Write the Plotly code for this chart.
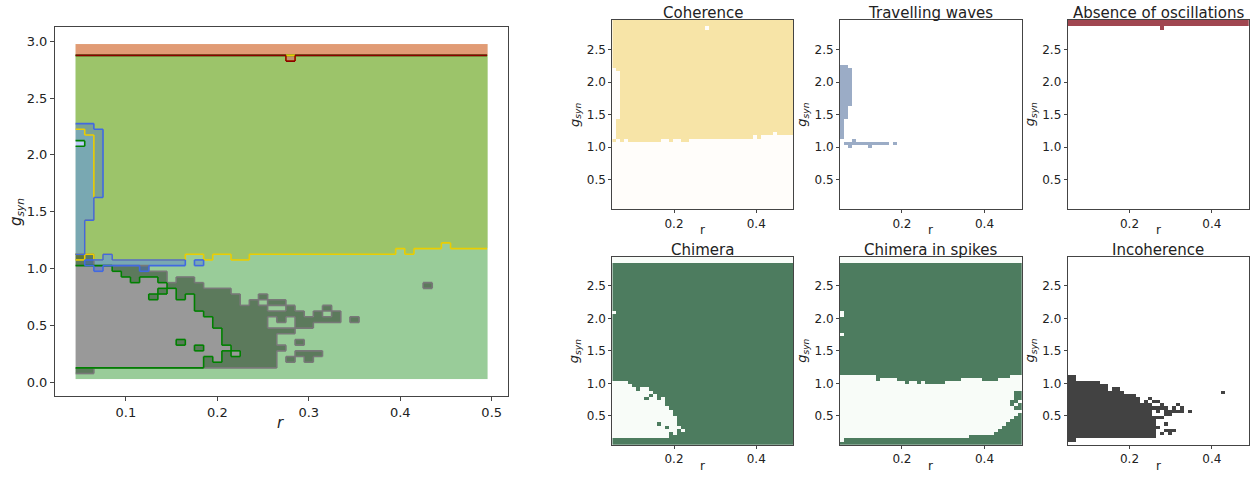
import numpy as np
import plotly.graph_objects as go

# ---------------- data ----------------
R_VALUES = [0.05, 0.06, 0.07, 0.08, 0.09, 0.10, 0.11, 0.12, 0.13, 0.14, 0.15,
            0.16, 0.17, 0.18, 0.19, 0.20, 0.21, 0.22, 0.23, 0.24, 0.25, 0.26,
            0.27, 0.28, 0.29, 0.30, 0.31, 0.32, 0.33, 0.34, 0.35, 0.36, 0.37,
            0.38, 0.39, 0.40, 0.41, 0.42, 0.43, 0.44, 0.45, 0.46, 0.47, 0.48, 0.49]
G_VALUES = [0.05, 0.10, 0.15, 0.20, 0.25, 0.30, 0.35, 0.40, 0.45, 0.50,
            0.55, 0.60, 0.65, 0.70, 0.75, 0.80, 0.85, 0.90, 0.95, 1.00,
            1.05, 1.10, 1.15, 1.20, 1.25, 1.30, 1.35, 1.40, 1.45, 1.50,
            1.55, 1.60, 1.65, 1.70, 1.75, 1.80, 1.85, 1.90, 1.95, 2.00,
            2.05, 2.10, 2.15, 2.20, 2.25, 2.30, 2.35, 2.40, 2.45, 2.50,
            2.55, 2.60, 2.65, 2.70, 2.75, 2.80, 2.85, 2.90, 2.95]

# Coherence: lowest coherent g per r column, plus non-coherent gaps (r, g_lo, g_hi)
COH_MIN_G = [1.10, 1.15, 1.10, 1.15, 1.10, 1.10, 1.10, 1.10, 1.10, 1.10, 1.10,
             1.10, 1.15, 1.15, 1.10, 1.15, 1.15, 1.10, 1.10, 1.15, 1.15, 1.15,
             1.15, 1.15, 1.15, 1.15, 1.15, 1.15, 1.15, 1.15, 1.15, 1.15, 1.15,
             1.15, 1.15, 1.20, 1.15, 1.20, 1.20, 1.20, 1.25, 1.20, 1.20, 1.20, 1.20]
COH_GAPS = [(0.05, 1.15, 2.20), (0.06, 1.45, 2.15), (0.28, 2.85, 2.85)]

# Absence of oscillations: lowest g per r column
ABS_MIN_G = [2.90, 2.90, 2.90, 2.90, 2.90, 2.90, 2.90, 2.90, 2.90, 2.90, 2.90,
             2.90, 2.90, 2.90, 2.90, 2.90, 2.90, 2.90, 2.90, 2.90, 2.90, 2.90,
             2.90, 2.85, 2.90, 2.90, 2.90, 2.90, 2.90, 2.90, 2.90, 2.90, 2.90,
             2.90, 2.90, 2.90, 2.90, 2.90, 2.90, 2.90, 2.90, 2.90, 2.90, 2.90, 2.90]

# Travelling waves: blocks (r_lo, r_hi, g_lo, g_hi)
TW_BLOCKS = [(0.05, 0.05, 1.15, 2.25), (0.06, 0.06, 1.45, 2.25), (0.07, 0.07, 1.65, 2.20),
             (0.06, 0.16, 1.05, 1.05), (0.08, 0.08, 1.10, 1.10), (0.07, 0.07, 1.00, 1.00),
             (0.12, 0.12, 1.00, 1.00), (0.18, 0.18, 1.05, 1.05)]

# Incoherence: (r, g_lo, g_hi)
INCOH_SEGS = [(0.05, 0.10, 1.10), (0.06, 0.10, 1.10),
              (0.07, 0.15, 1.00), (0.08, 0.15, 1.00), (0.09, 0.15, 1.00), (0.10, 0.15, 1.00),
              (0.11, 0.15, 1.00), (0.12, 0.15, 1.00), (0.13, 0.15, 0.95), (0.14, 0.15, 0.95),
              (0.15, 0.15, 0.85), (0.16, 0.15, 0.90), (0.17, 0.15, 0.90), (0.18, 0.15, 0.85),
              (0.19, 0.15, 0.80), (0.20, 0.15, 0.80), (0.21, 0.15, 0.80), (0.22, 0.15, 0.75),
              (0.23, 0.15, 0.65), (0.24, 0.15, 0.70), (0.25, 0.15, 0.65), (0.25, 0.75, 0.75),
              (0.26, 0.15, 0.45), (0.26, 0.60, 0.60), (0.26, 0.70, 0.70),
              (0.27, 0.30, 0.30), (0.27, 0.45, 0.45), (0.27, 0.55, 0.60), (0.27, 0.70, 0.70),
              (0.28, 0.20, 0.20), (0.28, 0.45, 0.45), (0.28, 0.60, 0.65),
              (0.29, 0.25, 0.25), (0.29, 0.35, 0.35), (0.29, 0.50, 0.60),
              (0.30, 0.20, 0.25), (0.30, 0.50, 0.55), (0.31, 0.25, 0.25), (0.31, 0.55, 0.60),
              (0.32, 0.55, 0.55), (0.32, 0.65, 0.65), (0.33, 0.55, 0.60),
              (0.35, 0.55, 0.55), (0.43, 0.85, 0.85)]

# Chimera: present up to CHIM_MAX_G except gaps (r, g_lo, g_hi)
CHIM_MAX_G = 2.85
CHIM_GAPS = [(0.05, 0.15, 1.00), (0.06, 0.15, 1.00), (0.07, 0.15, 1.00), (0.08, 0.15, 1.00),
             (0.09, 0.15, 0.95), (0.10, 0.15, 0.90), (0.11, 0.15, 0.85), (0.12, 0.15, 0.90),
             (0.13, 0.15, 0.70), (0.13, 0.80, 0.90), (0.14, 0.15, 0.75), (0.14, 0.85, 0.85),
             (0.15, 0.15, 0.80), (0.16, 0.15, 0.30), (0.16, 0.40, 0.70), (0.17, 0.15, 0.75),
             (0.18, 0.15, 0.25), (0.18, 0.35, 0.60), (0.19, 0.25, 0.55), (0.20, 0.20, 0.45),
             (0.21, 0.30, 0.30), (0.22, 0.25, 0.25), (0.05, 2.10, 2.10)]

# Chimera in spikes: present up to CIS_MAX_G except gaps (r, g_lo, g_hi)
CIS_MAX_G = 2.85
CIS_GAPS = [(0.05, 0.10, 1.10), (0.05, 1.75, 1.75), (0.05, 2.05, 2.10),
            (0.06, 0.15, 1.10), (0.07, 0.15, 1.10), (0.08, 0.15, 1.10), (0.09, 0.15, 1.10),
            (0.10, 0.15, 1.10), (0.11, 0.15, 1.10), (0.12, 0.15, 1.10), (0.13, 0.15, 1.10),
            (0.14, 0.15, 1.00), (0.15, 0.15, 1.05), (0.16, 0.15, 1.05), (0.17, 0.15, 1.05),
            (0.18, 0.15, 1.05), (0.19, 0.15, 1.00), (0.20, 0.15, 1.00), (0.21, 0.15, 0.95),
            (0.22, 0.15, 1.00), (0.23, 0.15, 1.00), (0.24, 0.15, 0.95), (0.25, 0.15, 1.00),
            (0.26, 0.15, 0.95), (0.27, 0.15, 0.95), (0.28, 0.15, 0.95), (0.29, 0.15, 0.95),
            (0.30, 0.15, 0.95), (0.31, 0.15, 1.00), (0.32, 0.15, 1.00), (0.33, 0.15, 1.00),
            (0.34, 0.15, 1.00), (0.35, 0.15, 1.05), (0.36, 0.15, 1.05), (0.37, 0.20, 1.05),
            (0.38, 0.20, 1.05), (0.39, 0.20, 1.05), (0.40, 0.20, 1.00), (0.41, 0.20, 1.00),
            (0.42, 0.20, 1.00), (0.43, 0.25, 1.00), (0.44, 0.30, 1.05), (0.45, 0.35, 1.05),
            (0.46, 0.40, 1.05), (0.47, 0.45, 0.60), (0.47, 0.75, 1.10),
            (0.48, 0.50, 0.55), (0.48, 0.65, 0.65), (0.48, 0.90, 1.10),
            (0.49, 0.55, 0.55), (0.49, 0.70, 0.70), (0.49, 0.90, 1.10)]

PANEL_TITLES = ["Coherence", "Travelling waves", "Absence of oscillations",
                "Chimera", "Chimera in spikes", "Incoherence"]

# ---------------- build masks ----------------
Ra = np.array(R_VALUES)
Ga = np.array(G_VALUES)
nR, nG = len(Ra), len(Ga)
EPS = 1e-6


def col_of(r):
    return int(np.argmin(np.abs(Ra - r)))


def apply_segs(m, segs, val):
    for r, g0, g1 in segs:
        m[(Ga >= g0 - EPS) & (Ga <= g1 + EPS), col_of(r)] = val
    return m


coh = Ga[:, None] >= np.array(COH_MIN_G)[None, :] - EPS
coh = apply_segs(coh, COH_GAPS, False)

absn = Ga[:, None] >= np.array(ABS_MIN_G)[None, :] - EPS

tw = np.zeros((nG, nR), bool)
for r0, r1, g0, g1 in TW_BLOCKS:
    rows = (Ga >= g0 - EPS) & (Ga <= g1 + EPS)
    cols = (Ra >= r0 - EPS) & (Ra <= r1 + EPS)
    tw[np.ix_(rows, cols)] = True

inc = apply_segs(np.zeros((nG, nR), bool), INCOH_SEGS, True)

chim = np.repeat((Ga <= CHIM_MAX_G + EPS)[:, None], nR, axis=1)
chim = apply_segs(chim, CHIM_GAPS, False)

cis = np.repeat((Ga <= CIS_MAX_G + EPS)[:, None], nR, axis=1)
cis = apply_segs(cis, CIS_GAPS, False)

dr = Ra[1] - Ra[0]
dg = Ga[1] - Ga[0]


def outline(m):
    xs, ys = [], []
    for i in range(nR - 1):
        diff = m[:, i] != m[:, i + 1]
        j = 0
        while j < nG:
            if diff[j]:
                k = j
                while k + 1 < nG and diff[k + 1]:
                    k += 1
                x = (Ra[i] + Ra[i + 1]) / 2
                xs += [x, x, None]
                ys += [Ga[j] - dg / 2, Ga[k] + dg / 2, None]
                j = k + 1
            else:
                j += 1
    for j in range(nG - 1):
        diff = m[j, :] != m[j + 1, :]
        i = 0
        while i < nR:
            if diff[i]:
                k = i
                while k + 1 < nR and diff[k + 1]:
                    k += 1
                y = (Ga[j] + Ga[j + 1]) / 2
                xs += [Ra[i] - dr / 2, Ra[k] + dr / 2, None]
                ys += [y, y, None]
                i = k + 1
            else:
                i += 1
    return xs, ys


fig = go.Figure()

# ---------------- left overview panel ----------------
layers = [
    (chim, "rgb(0,128,0)", 0.4),
    (coh, "rgb(160,184,35)", 0.4),
    (inc, "rgb(0,0,0)", 0.4),
    (tw, "rgb(60,95,230)", 0.33),
    (absn, "rgb(233,85,69)", 0.5),
]
for m, col, op in layers:
    z = [[1 if v else None for v in row] for row in m]
    fig.add_trace(go.Heatmap(x=Ra, y=Ga, z=z, colorscale=[[0, col], [1, col]],
                             zmin=0, zmax=1, showscale=False, opacity=op,
                             hoverinfo="skip", xaxis="x", yaxis="y"))

outlines = [
    (inc, "rgb(120,120,120)"),
    (chim, "rgb(0,128,0)"),
    (coh, "rgb(235,205,0)"),
    (tw, "rgb(65,105,225)"),
    (absn, "rgb(139,0,0)"),
]
for m, col in outlines:
    xs, ys = outline(m)
    fig.add_trace(go.Scatter(x=xs, y=ys, mode="lines", line=dict(color=col, width=1.6),
                             hoverinfo="skip", showlegend=False, xaxis="x", yaxis="y"))

# ---------------- small panels ----------------
panel_masks = [coh, tw, absn, chim, cis, inc]
panel_cols = [("rgb(255,253,250)", "rgb(247,228,167)"),
              ("rgb(255,255,255)", "rgb(155,172,198)"),
              ("rgb(255,255,255)", "rgb(160,70,80)"),
              ("rgb(248,252,248)", "rgb(77,124,95)"),
              ("rgb(248,252,248)", "rgb(77,124,95)"),
              ("rgb(255,255,255)", "rgb(66,66,66)")]
xe = np.linspace(Ra[0], Ra[-1], nR + 1)
ye = np.linspace(Ga[0], Ga[-1], nG + 1)
for k, m in enumerate(panel_masks):
    bg, fg = panel_cols[k]
    fig.add_trace(go.Heatmap(x=xe, y=ye, z=m.astype(int).tolist(),
                             colorscale=[[0, bg], [1, fg]], zmin=0, zmax=1,
                             showscale=False, hoverinfo="skip",
                             xaxis="x%d" % (k + 2), yaxis="y%d" % (k + 2)))

W, H = 1255, 477
FONT = "DejaVu Sans"
AX = dict(showline=True, mirror=True, linecolor="#444", linewidth=1, ticks="outside",
          ticklen=3, tickcolor="#444", showgrid=False, zeroline=False,
          tickfont=dict(family=FONT, size=12, color="#222"))

layout = dict(width=W, height=H, margin=dict(l=0, r=0, t=0, b=0),
              paper_bgcolor="white", plot_bgcolor="white", showlegend=False,
              font=dict(family=FONT, color="#222"))

layout["xaxis"] = dict(AX, domain=[55 / W, 507.7 / W], range=[0.0225, 0.5175], ticklen=4,
                       tickvals=[0.1, 0.2, 0.3, 0.4, 0.5], ticktext=["0.1", "0.2", "0.3", "0.4", "0.5"],
                       tickfont=dict(family=FONT, size=13, color="#222"), anchor="y")
layout["yaxis"] = dict(AX, domain=[1 - 396 / H, 1 - 27.3 / H], range=[-0.1225, 3.1225], ticklen=4,
                       tickvals=[0, 0.5, 1.0, 1.5, 2.0, 2.5, 3.0],
                       ticktext=["0.0", "0.5", "1.0", "1.5", "2.0", "2.5", "3.0"],
                       tickfont=dict(family=FONT, size=13, color="#222"), anchor="x")

col_dom = [(612.3, 793.3), (840.0, 1021.7), (1067.7, 1249.0)]
row_dom = [(20.0, 209.3), (256.7, 445.0)]
annotations = []
for k in range(6):
    rr, cc = divmod(k, 3)
    x0, x1 = col_dom[cc]
    y0, y1 = row_dom[rr]
    n = k + 2
    layout["xaxis%d" % n] = dict(AX, domain=[x0 / W, x1 / W], range=[Ra[0], Ra[-1]],
                                 tickvals=[0.2, 0.4], ticktext=["0.2", "0.4"], anchor="y%d" % n)
    layout["yaxis%d" % n] = dict(AX, domain=[1 - y1 / H, 1 - y0 / H], range=[Ga[0], Ga[-1]],
                                 tickvals=[0.5, 1.0, 1.5, 2.0, 2.5],
                                 ticktext=["0.5", "1.0", "1.5", "2.0", "2.5"], anchor="x%d" % n)
    cx = (x0 + x1) / 2 / W
    annotations.append(dict(text=PANEL_TITLES[k], x=cx, y=1 - (y0 - 7) / H, xref="paper",
                            yref="paper", showarrow=False, xanchor="center", yanchor="middle",
                            font=dict(family=FONT, size=15, color="#222")))
    annotations.append(dict(text="r", x=cx, y=1 - (y1 + 21) / H, xref="paper", yref="paper",
                            showarrow=False, xanchor="center", yanchor="middle",
                            font=dict(family=FONT, size=12, color="#222")))
    annotations.append(dict(text="<i>g</i><sub><i>syn</i></sub>", x=(x0 - 37) / W,
                            y=1 - (y0 + y1) / 2 / H, xref="paper", yref="paper",
                            showarrow=False, textangle=-90, xanchor="center", yanchor="middle",
                            font=dict(family=FONT, size=13, color="#222")))

annotations.append(dict(text="<i>r</i>", x=280 / W, y=1 - 423 / H, xref="paper", yref="paper",
                        showarrow=False, xanchor="center", yanchor="middle",
                        font=dict(family=FONT, size=15, color="#222")))
annotations.append(dict(text="<i>g</i><sub><i>syn</i></sub>", x=16 / W, y=1 - 212 / H,
                        xref="paper", yref="paper", showarrow=False, textangle=-90,
                        xanchor="center", yanchor="middle",
                        font=dict(family=FONT, size=15, color="#222")))
layout["annotations"] = annotations

fig.update_layout(**layout)
fig.write_html("out.html")
